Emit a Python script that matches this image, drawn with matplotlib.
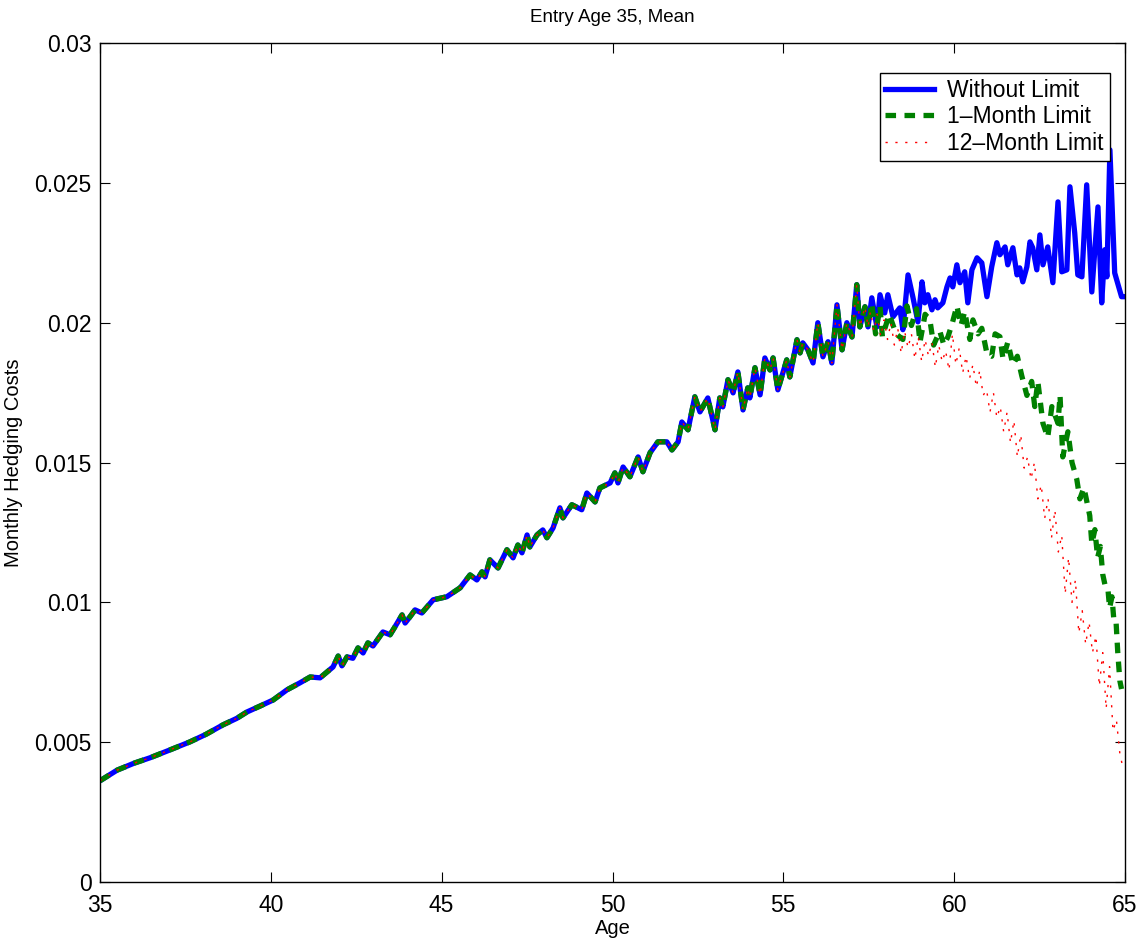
import numpy as np
import matplotlib
matplotlib.use('Agg')
import matplotlib.pyplot as plt

plt.rcParams['font.family'] = ['Liberation Sans', 'DejaVu Sans']

# shared part of the three curves (age, monthly hedging cost)
base_age = [35.0, 35.5, 36.0, 36.46, 37.0, 37.63, 38.1, 38.6, 39.0, 39.3, 39.7, 40.07, 40.47,
            40.85, 41.15, 41.44, 41.82, 41.97, 42.08, 42.23, 42.4, 42.55, 42.7, 42.84, 42.99,
            43.28, 43.49, 43.63, 43.84, 43.93, 44.07, 44.22, 44.42, 44.75, 45.15, 45.54, 45.83,
            46.03, 46.18, 46.27, 46.41, 46.65, 46.91, 47.09, 47.23, 47.35, 47.5, 47.58, 47.79,
            47.96, 48.08, 48.26, 48.46, 48.55, 48.81, 49.1, 49.25, 49.49, 49.63, 49.93, 50.07,
            50.16, 50.31, 50.51, 50.75, 50.89, 51.1, 51.33, 51.59, 51.74, 51.92, 52.03, 52.21,
            52.41, 52.56, 52.79, 53.0, 53.14, 53.23, 53.38, 53.53, 53.67, 53.82, 53.96, 54.02,
            54.17, 54.32, 54.46, 54.61, 54.7, 54.84, 55.1, 55.19, 55.4, 55.49, 55.57, 55.72,
            55.87, 56.01, 56.16, 56.31, 56.42, 56.57, 56.72, 56.86, 57.01, 57.15, 57.24, 57.39,
            57.48]
base_val = [0.00362, 0.00400, 0.00425, 0.00444, 0.00470, 0.00501, 0.00528, 0.00562, 0.00585,
            0.00608, 0.00630, 0.00651, 0.00687, 0.00712, 0.00733, 0.00730, 0.00769, 0.00808,
            0.00773, 0.00805, 0.00800, 0.00837, 0.00819, 0.00855, 0.00844, 0.00894, 0.00884,
            0.00912, 0.00955, 0.00926, 0.00948, 0.00973, 0.00962, 0.01009, 0.01020, 0.01052,
            0.01098, 0.01080, 0.01109, 0.01091, 0.01152, 0.01123, 0.01188, 0.01159, 0.01205,
            0.01177, 0.01241, 0.01198, 0.01241, 0.01259, 0.01231, 0.01266, 0.01338, 0.01302,
            0.01349, 0.01331, 0.01391, 0.01359, 0.01409, 0.01427, 0.01463, 0.01427, 0.01484,
            0.01449, 0.01520, 0.01467, 0.01535, 0.01574, 0.01574, 0.01545, 0.01574, 0.01645,
            0.01617, 0.01735, 0.01681, 0.01731, 0.01617, 0.01731, 0.01699, 0.01796, 0.01749,
            0.01824, 0.01688, 0.01767, 0.01731, 0.01839, 0.01742, 0.01874, 0.01831, 0.01874,
            0.01760, 0.01867, 0.01806, 0.01939, 0.01892, 0.01928, 0.01903, 0.01856, 0.02000,
            0.01878, 0.01932, 0.01856, 0.02064, 0.01903, 0.02000, 0.01949, 0.02136, 0.01985,
            0.02057, 0.01985]

# without limit, after the curves split
blue_age = [57.59, 57.74, 57.83, 57.97, 58.06, 58.21, 58.41, 58.5, 58.65, 58.79, 58.94, 59.06,
            59.14, 59.23, 59.35, 59.44, 59.52, 59.67, 59.79, 59.88, 59.96, 60.08, 60.17, 60.31,
            60.4, 60.52, 60.67, 60.81, 60.96, 61.1, 61.25, 61.34, 61.49, 61.57, 61.72, 61.84,
            61.92, 62.01, 62.13, 62.22, 62.3, 62.42, 62.51, 62.6, 62.74, 62.89, 63.04, 63.15,
            63.3, 63.39, 63.53, 63.62, 63.74, 63.88, 64.03, 64.21, 64.32, 64.41, 64.47, 64.56,
            64.7, 64.9, 65.0]
blue_val = [0.02089, 0.01985, 0.02100, 0.02035, 0.02100, 0.02021, 0.02053, 0.01975, 0.02171,
            0.02093, 0.02003, 0.02146, 0.02071, 0.02100, 0.02046, 0.02082, 0.02053, 0.02071,
            0.02128, 0.02160, 0.02128, 0.02207, 0.02143, 0.02182, 0.02071, 0.02189, 0.02232,
            0.02214, 0.02093, 0.02200, 0.02286, 0.02243, 0.02271, 0.02207, 0.02268, 0.02171,
            0.02196, 0.02146, 0.02200, 0.02289, 0.02268, 0.02189, 0.02314, 0.02207, 0.02271,
            0.02143, 0.02432, 0.02182, 0.02189, 0.02486, 0.02321, 0.02171, 0.02164, 0.02493,
            0.02110, 0.02414, 0.02071, 0.02261, 0.02164, 0.02618, 0.02178, 0.02093, 0.02093]

# 1-month limit tail
green_age = [57.59, 57.7, 57.83, 57.9, 58.1, 58.3, 58.5, 58.62, 58.75, 58.9, 59.0, 59.15, 59.29,
             59.4, 59.58, 59.7, 59.82, 59.95, 60.08, 60.2, 60.31, 60.46, 60.55, 60.7, 60.81,
             60.96, 61.1, 61.2, 61.34, 61.43, 61.57, 61.72, 61.85, 61.98, 62.13, 62.27, 62.36,
             62.45, 62.6, 62.74, 62.86, 63.04, 63.1, 63.18, 63.33, 63.45, 63.59, 63.68, 63.8,
             63.97, 64.03, 64.12, 64.2, 64.28, 64.35, 64.42, 64.5, 64.55, 64.62, 64.68, 64.74,
             64.79, 64.85, 64.9]
green_val = [0.02070, 0.01960, 0.02060, 0.01950, 0.02030, 0.01960, 0.01940, 0.02060, 0.01990,
             0.02050, 0.01930, 0.02030, 0.02010, 0.01920, 0.01970, 0.01920, 0.01950, 0.02000,
             0.02060, 0.01990, 0.02040, 0.01940, 0.02010, 0.01960, 0.01980, 0.01890, 0.01880,
             0.01960, 0.01950, 0.01870, 0.01930, 0.01850, 0.01880, 0.01810, 0.01740, 0.01790,
             0.01700, 0.01790, 0.01640, 0.01590, 0.01700, 0.01640, 0.01740, 0.01520, 0.01610,
             0.01500, 0.01440, 0.01370, 0.01410, 0.01310, 0.01210, 0.01260, 0.01160, 0.01200,
             0.01100, 0.01060, 0.01050, 0.00980, 0.01020, 0.00930, 0.00930, 0.00820, 0.00720,
             0.00690]

# 12-month limit tail
red_age = [57.55, 57.65, 57.75, 57.85, 57.95, 58.05, 58.15, 58.25, 58.35, 58.45, 58.55, 58.65,
           58.75, 58.85, 58.95, 59.05, 59.15, 59.25, 59.35, 59.45, 59.55, 59.65, 59.75, 59.85,
           59.95, 60.05, 60.15, 60.25, 60.35, 60.45, 60.55, 60.65, 60.75, 60.85, 60.95, 61.05,
           61.15, 61.25, 61.35, 61.45, 61.55, 61.65, 61.75, 61.85, 61.95, 62.05, 62.15, 62.25,
           62.35, 62.45, 62.55, 62.65, 62.75, 62.85, 62.95, 63.05, 63.15, 63.25, 63.35, 63.45,
           63.55, 63.65, 63.75, 63.85, 63.95, 64.05, 64.15, 64.25, 64.35, 64.45, 64.55, 64.65,
           64.75, 64.85, 64.92]
red_val = [0.0204, 0.0197, 0.0203, 0.0195, 0.0201, 0.0194, 0.0200, 0.0192, 0.0198, 0.0189,
           0.0197, 0.0191, 0.0196, 0.0187, 0.0195, 0.0186, 0.0194, 0.0188, 0.0193, 0.0184,
           0.0192, 0.0186, 0.0190, 0.0183, 0.0196, 0.0185, 0.0191, 0.0182, 0.0188, 0.0180,
           0.0185, 0.0177, 0.0183, 0.0174, 0.0176, 0.0168, 0.0175, 0.0166, 0.0170, 0.0161,
           0.0168, 0.0157, 0.0165, 0.0152, 0.0160, 0.0148, 0.0152, 0.0144, 0.0150, 0.0137,
           0.0142, 0.0130, 0.0137, 0.0123, 0.0133, 0.0118, 0.0124, 0.0103, 0.0116, 0.0100,
           0.0108, 0.0089, 0.0097, 0.0085, 0.0093, 0.0082, 0.0088, 0.0070, 0.0082, 0.0062,
           0.0077, 0.0054, 0.0058, 0.0046, 0.0042]

x_ticks = [35, 40, 45, 50, 55, 60, 65]
y_ticks = [0, 0.005, 0.01, 0.015, 0.02, 0.025, 0.03]
y_ticklabels = ['0', '0.005', '0.01', '0.015', '0.02', '0.025', '0.03']

#%%
fig = plt.figure(figsize=(11.37, 9.44), dpi=100)
ax = fig.add_axes([0.088, 0.0657, 0.9014, 0.8887])

ax.plot(base_age + blue_age, base_val + blue_val, color='blue', lw=3.8, solid_joinstyle='round',
        label='Without Limit')
ax.plot(base_age + green_age, base_val + green_val, color='green', lw=3.8, ls=(0, (2.0, 1.6)),
        label='1\u2013Month Limit')
ax.plot(base_age + red_age, base_val + red_val, color='red', lw=1.0, ls=(0, (1.6, 5.5)),
        label='12\u2013Month Limit')

ax.set_xlim(35, 65)
ax.set_ylim(0, 0.03)
ax.set_xticks(x_ticks)
ax.set_yticks(y_ticks)
ax.set_yticklabels(y_ticklabels)
ax.tick_params(direction='in', length=7, width=0.8, labelsize=16.5, top=True, right=True)
ax.tick_params(axis='x', pad=9)
ax.tick_params(axis='y', pad=6)
for s in ax.spines.values():
    s.set_linewidth(1.0)

ax.set_xlabel('Age', fontsize=14.5, labelpad=1)
ax.set_ylabel('Monthly Hedging Costs', fontsize=14.5, labelpad=8)
ax.set_title('Entry Age 35, Mean', fontsize=13.5, pad=15)

leg = ax.legend(loc='upper right', bbox_to_anchor=(0.985, 0.964), borderaxespad=0,
                fancybox=False, edgecolor='black', fontsize=16.5, handlelength=2.1,
                labelspacing=0.15, borderpad=0.25, handletextpad=0.6, framealpha=1)
leg.get_frame().set_linewidth(1.0)

fig.savefig('out.png', dpi=100)
